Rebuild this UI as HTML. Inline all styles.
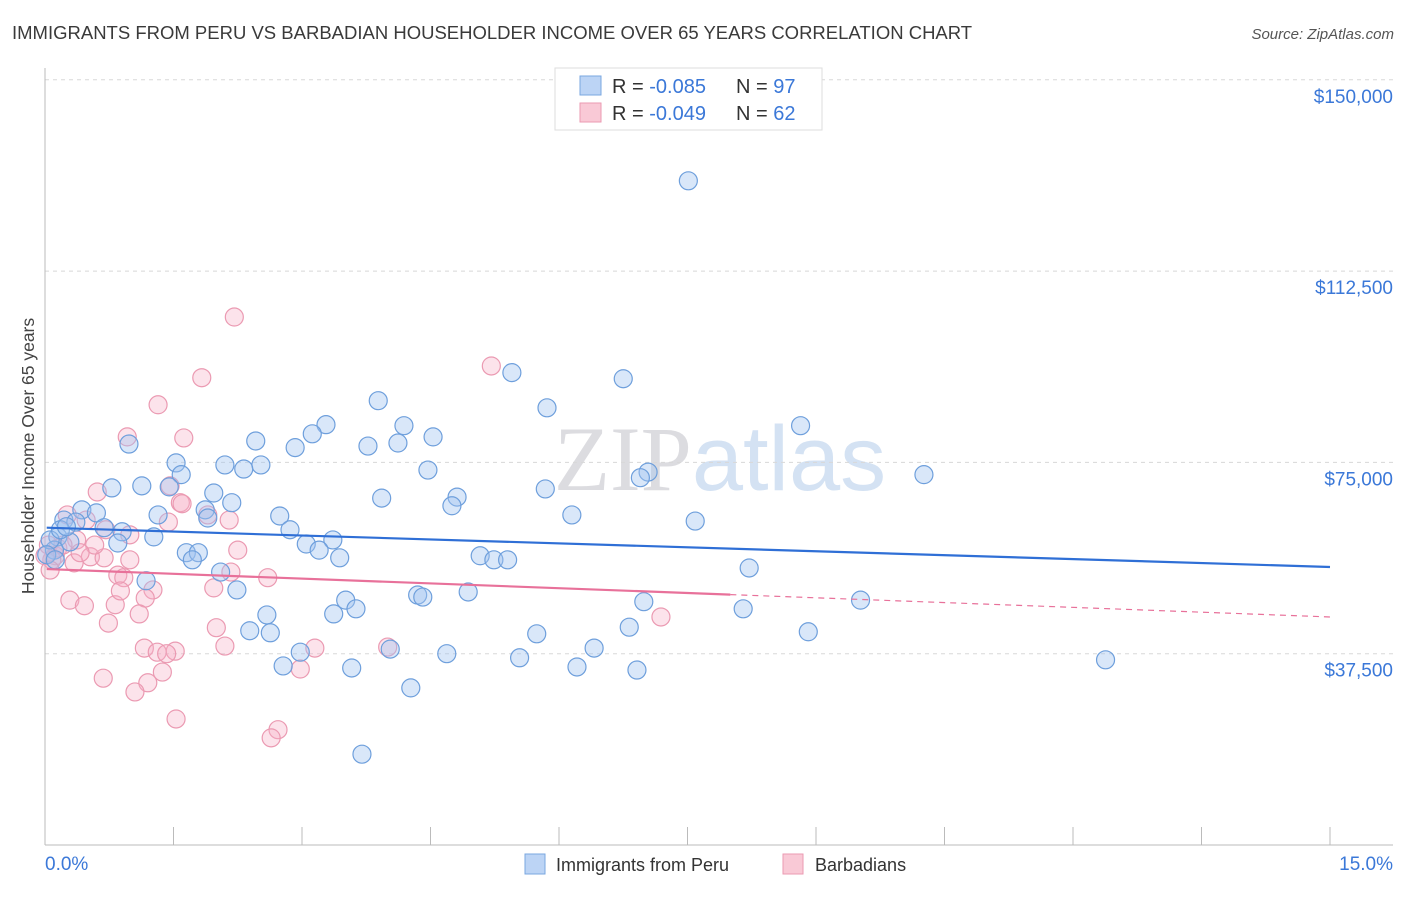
<!DOCTYPE html>
<html><head><meta charset="utf-8"><style>
body{margin:0;background:#fff;font-family:"Liberation Sans",sans-serif;}
svg text{font-family:"Liberation Sans",sans-serif;}
</style></head><body>
<svg id="chart" width="1406" height="892" xmlns="http://www.w3.org/2000/svg">
<text x="12" y="39" font-size="18.5" fill="#3a3a3a">IMMIGRANTS FROM PERU VS BARBADIAN HOUSEHOLDER INCOME OVER 65 YEARS CORRELATION CHART</text>
<text x="1394" y="39" font-size="15" fill="#555" text-anchor="end" font-style="italic">Source: ZipAtlas.com</text>
<text x="720" y="490" font-size="92" text-anchor="middle" fill="#e4e4ea"><tspan font-family="Liberation Serif" fill="#dcdce0">ZIP</tspan><tspan fill="#d4e2f3">atlas</tspan></text>
<g id="grid"></g>
<g id="axes"></g>
<g id="pink"></g>
<g id="blue"></g>
<g id="trends"></g>
<text transform="translate(34,456) rotate(-90)" font-size="17.5" fill="#444" text-anchor="middle">Householder Income Over 65 years</text>
<g>
<rect x="555" y="68" width="267" height="62" fill="#fff" stroke="#ddd"/>
<rect x="580" y="76" width="21" height="19" fill="#bcd4f5" stroke="#7aa7e0"/>
<rect x="580" y="103" width="21" height="19" fill="#f9c9d6" stroke="#eb9ab2"/>
<text x="612" y="93" font-size="20" fill="#333">R = <tspan fill="#3b78d8">-0.085</tspan><tspan dx="30">N = </tspan><tspan fill="#3b78d8">97</tspan></text>
<text x="612" y="120" font-size="20" fill="#333">R = <tspan fill="#3b78d8">-0.049</tspan><tspan dx="30">N = </tspan><tspan fill="#3b78d8">62</tspan></text>
</g>
<g>
<rect x="525" y="854" width="20" height="20" fill="#bcd4f5" stroke="#7aa7e0"/>
<text x="556" y="871" font-size="18" fill="#333">Immigrants from Peru</text>
<rect x="783" y="854" width="20" height="20" fill="#f9c9d6" stroke="#eb9ab2"/>
<text x="815" y="871" font-size="18" fill="#333">Barbadians</text>
</g>
</svg>
<script>
const blueX=[7.51,5.45,6.75,3.89,5.86,8.82,3.28,4.19,0.98,2.46,2.92,3.12,3.77,4.12,4.53,1.53,2.10,2.52,2.32,1.59,4.47,7.04,6.95,10.26,0.78,1.13,1.45,1.97,3.93,4.81,4.75,5.84,2.18,1.87,1.90,1.32,2.74,6.15,7.59,0.22,0.43,0.60,0.36,0.90,0.69,2.86,3.36,3.05,0.85,1.27,0.15,0.29,0.11,3.20,1.65,1.79,1.72,3.44,5.08,5.24,5.40,8.22,2.05,1.18,2.24,0.06,0.18,4.35,4.41,4.94,9.52,3.51,3.63,2.59,3.37,6.99,8.15,2.39,2.63,5.74,6.82,8.91,4.03,2.98,4.69,5.54,6.41,12.38,2.78,3.58,6.21,6.91,4.27,3.70,0.02,0.12,0.25];
const blueY=[130.2,92.6,91.4,87.1,85.7,82.2,82.4,82.2,78.6,79.2,77.9,80.6,78.2,78.8,80.0,74.9,74.5,74.5,73.7,72.6,73.5,73.1,72.0,72.6,70.0,70.4,70.2,69.0,68.0,68.2,66.5,69.8,67.1,65.7,64.1,64.7,64.5,64.7,63.5,63.7,65.7,65.1,63.3,61.4,62.2,61.8,59.8,59.0,59.2,60.4,60.4,59.4,57.8,57.8,57.3,57.3,55.9,56.3,56.7,55.9,55.9,54.3,53.5,51.8,50.0,59.8,61.8,49.0,48.6,49.6,48.0,48.0,46.3,45.1,45.3,47.7,46.3,42.0,41.6,41.4,42.7,41.8,38.4,37.8,37.5,36.7,38.6,36.3,35.1,34.7,34.9,34.3,30.8,17.8,56.9,55.9,62.4];
const pinkX=[2.21,5.21,1.83,1.32,0.96,1.62,1.46,0.61,1.58,1.60,2.15,1.90,1.44,0.26,0.48,0.71,0.99,2.25,0.04,0.12,0.08,0.37,0.53,0.69,0.34,0.58,0.99,0.85,0.92,2.17,2.60,1.97,1.26,1.17,0.29,0.46,0.82,1.10,0.74,2.00,2.10,1.16,1.31,1.52,1.42,3.15,4.00,7.19,2.98,1.37,0.68,1.20,1.05,1.53,2.72,2.64,0.15,0.21,0.41,0.88,0.0,0.06];
const pinkY=[103.5,93.9,91.6,86.3,80.0,79.8,70.4,69.2,67.1,66.9,63.7,64.7,63.3,64.7,63.7,61.8,60.8,57.8,58.8,56.7,55.9,59.8,56.5,56.3,55.3,58.8,55.9,52.9,52.4,53.5,52.4,50.4,50.0,48.4,48.0,46.9,47.1,45.3,43.5,42.6,39.0,38.6,37.8,38.0,37.5,38.6,38.8,44.7,34.5,33.9,32.7,31.8,30.0,24.7,22.6,21.0,58.2,58.8,57.3,49.8,56.7,53.9];
const yTicks=[37.5,75,112.5,150];
const yTickLabels=["$37,500","$75,000","$112,500","$150,000"];
const xTickLabels=["0.0%","15.0%"];
const blueTrend=[62.2,54.5];
const pinkTrend=[54.1,44.7];
const pinkSolidEnd=8.0;

const X0=45,X1=1330,Y0=845,PX=(X1-X0)/15,PY=191.3/37.5;
const sx=v=>X0+v*PX, sy=v=>Y0-v*PY;
const NS="http://www.w3.org/2000/svg";
function mk(tag,attrs,parent){const e=document.createElementNS(NS,tag);for(const k in attrs)e.setAttribute(k,attrs[k]);parent.appendChild(e);return e;}
const grid=document.getElementById('grid'),axes=document.getElementById('axes');
yTicks.forEach((t,i)=>{
  const l=mk('line',{x1:X0,x2:1393,y1:sy(t),y2:sy(t),stroke:'#d8d8d8','stroke-dasharray':'4,4'},grid);
  
  
  const tx=mk('text',{x:1393,y:sy(t)+23,'font-size':19,fill:'#3b78d8','text-anchor':'end'},axes);
  tx.textContent=yTickLabels[i];
  
  
});
const ax=mk('line',{x1:X0,x2:1393,y1:Y0,y2:Y0,stroke:'#bbb'},axes);


const ay=mk('line',{x1:X0,x2:X0,y1:68,y2:Y0,stroke:'#bbb'},axes);


for(let i=1;i<=10;i++){
  const tk=mk('line',{x1:sx(i*1.5),x2:sx(i*1.5),y1:Y0,y2:Y0-18,stroke:'#bbb'},axes);
  
  
}
[[0,X0,'start'],[1,1393,'end']].forEach(([i,x,a])=>{
  const t=mk('text',{x:x,y:870,'font-size':19,fill:'#3b78d8','text-anchor':a},axes);
  t.textContent=xTickLabels[i];
  
  
});
const bg=document.getElementById('blue'),pg=document.getElementById('pink');
pinkX.forEach((v,i)=>{
  const c=mk('circle',{cx:sx(v),cy:sy(pinkY[i]),r:9,fill:'rgba(246,176,198,0.35)',stroke:'#eb9ab2','stroke-width':1.2},pg);
  
  
});
blueX.forEach((v,i)=>{
  const c=mk('circle',{cx:sx(v),cy:sy(blueY[i]),r:9,fill:'rgba(160,195,240,0.4)',stroke:'#6e9fdc','stroke-width':1.2},bg);
  
  
});
const tg=document.getElementById('trends');
const b=mk('line',{x1:sx(0.02),y1:sy(blueTrend[0]),x2:sx(15),y2:sy(blueTrend[1]),stroke:'#2f6fd6','stroke-width':2.2},tg);


const pAt=x=>pinkTrend[0]+(pinkTrend[1]-pinkTrend[0])*x/15;
const p1=mk('line',{x1:sx(0.02),y1:sy(pAt(0.02)),x2:sx(pinkSolidEnd),y2:sy(pAt(pinkSolidEnd)),stroke:'#e8719a','stroke-width':2.2},tg);


const p2=mk('line',{x1:sx(pinkSolidEnd),y1:sy(pAt(pinkSolidEnd)),x2:sx(15),y2:sy(pinkTrend[1]),stroke:'#e8719a','stroke-width':1.2,'stroke-dasharray':'6,5'},tg);


</script>
</body></html>
